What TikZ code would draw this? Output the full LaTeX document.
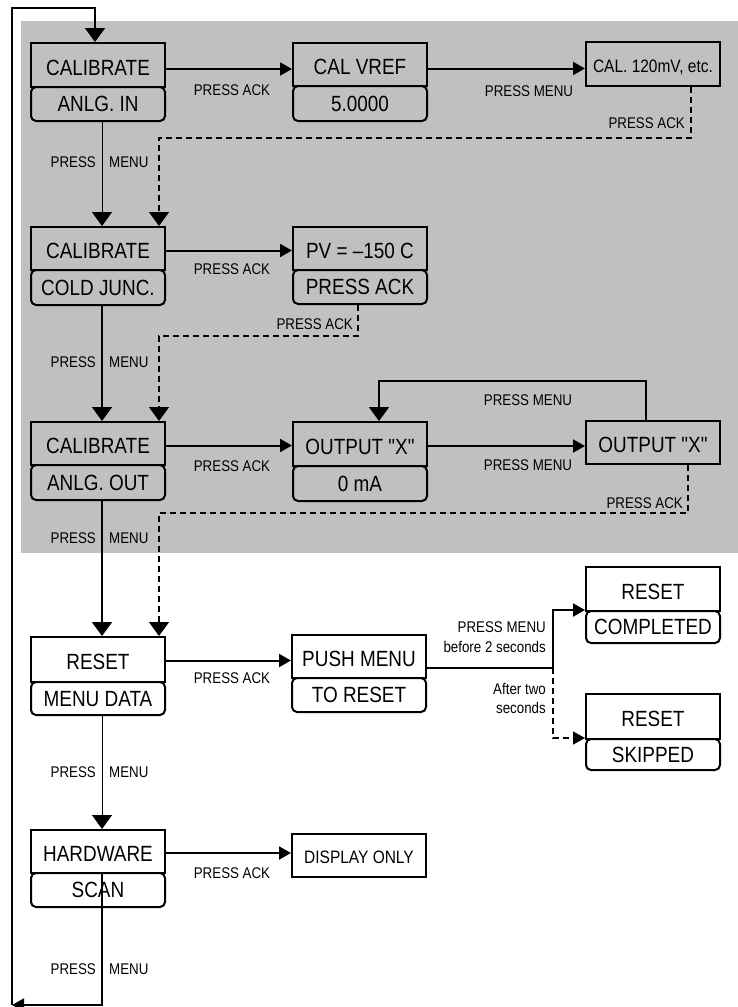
\documentclass[tikz,border=0pt]{standalone}
\usepackage{fontspec}
\setmainfont[FakeStretch=0.86, Ligatures=TeXOff]{Liberation Sans}
\usetikzlibrary{arrows.meta}
\definecolor{panel}{RGB}{192,192,192}
\tikzset{
  boxtop/.style={draw, line width=2pt, minimum width=134pt, inner sep=0pt,
    font=\fontsize{22}{25}\selectfont, text height=20.5pt, text depth=0pt},
  boxbot/.style={boxtop, rounded corners=5pt, text height=15.8pt},
  smalltext/.style={font=\fontsize{18}{21}\selectfont, text height=16.5pt},
  lab/.style={font=\fontsize{15.5}{18}\selectfont, inner sep=0pt},
  ln/.style={line width=2pt},
  thinln/.style={line width=1pt},
  dsh/.style={line width=1.2pt, dash pattern=on 6pt off 4pt},
  ha/.style={-{Triangle[length=12pt,width=13pt]}},
  va/.style={-{Triangle[length=14pt,width=20pt]}},
}
\newcommand\twobox[7]{%
  \node[boxtop, minimum height={(#4-#3)*1pt}] (#1t) at (#2,{(#3+#4)/2}) {#6};
  \node[boxbot, minimum height={(#5-#4)*1pt}] (#1b) at (#2,{(#4+#5)/2}) {#7};}
\begin{document}
\begin{tikzpicture}[x=1pt,y=-1pt]
\useasboundingbox (0,0) rectangle (738,1007);
\fill[white] (0,0) rectangle (738,1007);
\fill[panel] (21,21) rectangle (738,553);

% boxes
\twobox{cala}{98}{43}{87}{121}{CALIBRATE}{ANLG. IN}
\twobox{vref}{360}{43}{86}{121}{CAL VREF}{5.0000}
\node[boxtop, smalltext, minimum height=44pt] (cmv) at (653,64) {CAL. 120mV, etc.};
\twobox{calb}{98}{227}{270}{305}{CALIBRATE}{COLD JUNC.}
\twobox{pv}{360}{227}{270}{304}{PV = –150 C}{PRESS ACK}
\twobox{calc}{98}{422}{465}{500}{CALIBRATE}{ANLG. OUT}
\twobox{outa}{360}{422}{466}{501}{OUTPUT "X"}{0 mA}
\node[boxtop, minimum height=43pt] (outb) at (653,442.5) {OUTPUT "X"};
\twobox{rst}{98}{637}{682}{715}{RESET}{MENU DATA}
\twobox{push}{359}{635}{678}{712}{PUSH MENU}{TO RESET}
\twobox{comp}{653}{567}{611}{643}{RESET}{COMPLETED}
\twobox{skip}{653}{694}{739}{770}{RESET}{SKIPPED}
\twobox{hw}{98}{830}{873}{907}{HARDWARE}{SCAN}
\node[boxtop, smalltext, minimum height=43pt] (disp) at (359,855.5) {DISPLAY ONLY};

% connectors
\draw[ln,ha] ([yshift=-4pt]calat.east) -- ([yshift=-4pt]calat.east -| vreft.west);
\draw[ln,ha] ([yshift=-4pt]vreft.east) -- ([yshift=-4pt]vreft.east -| cmv.west);
\draw[dsh,va] ([xshift=38pt]cmv.south) |- ([xshift=-7pt,yshift=88pt]calbt.north east) -- ([xshift=-7pt]calbt.north east);
\draw[thinln,va] ([xshift=4pt]calab.south) -- ([xshift=4pt]calbt.north);

\draw[ln,ha] ([yshift=-2pt]calbt.east) -- ([yshift=-2pt]calbt.east -| pvt.west);
\draw[dsh,va] ([xshift=-2pt]pvb.south) |- ([xshift=-7pt,yshift=85pt]calct.north east) -- ([xshift=-7pt]calct.north east);
\draw[ln,va] ([xshift=4pt]calbb.south) -- ([xshift=4pt]calct.north);

\draw[ln,ha] ([yshift=-2pt]calct.east) -- ([yshift=-2pt]calct.east -| outat.west);
\draw[ln,ha] ([yshift=-2pt]outat.east) -- ([yshift=-2pt]outat.east -| outb.west);
\draw[ln,va] ([xshift=-7pt]outb.north) |- ([xshift=19pt,yshift=40pt]outat.north) -- ([xshift=19pt]outat.north);
\draw[dsh,va] ([xshift=35pt]outb.south) |- ([xshift=-7pt,yshift=123pt]rstt.north east) -- ([xshift=-7pt]rstt.north east);
\draw[ln,va] ([xshift=4pt]calcb.south) -- ([xshift=4pt]rstt.north);

\draw[ln,ha] ([yshift=-1pt]rstt.east) -- ([yshift=-1pt]rstt.east -| pusht.west);
\coordinate (fork) at (553,668);
\draw[ln] (pusht.east |- fork) -- (fork);
\draw[ln,ha] (fork) |- (compb.north west);
\draw[dsh,ha] (fork) |- (skipb.north west);
\draw[thinln,va] ([xshift=4pt]rstb.south) -- ([xshift=4pt]hwt.north);

\draw[ln,ha] ([yshift=-1.5pt]hwt.east) -- ([yshift=-1.5pt]hwt.east -| disp.west);
\coordinate (bl) at (12,1005);
\coordinate (tl) at (12,8);
\draw[ln,ha] ([xshift=4pt]hwt.south) |- (bl);
\draw[ln,va] (bl) -- (tl) -| ([xshift=-3pt]calat.north);

% labels
\foreach \yy/\nm in {162/a,362/b,538/c,772/d,969/e}{
  \node[lab, anchor=east] (p\nm) at (96,\yy) {PRESS};
  \node[lab, anchor=west] (m\nm) at (109,\yy) {MENU};
}
\foreach \yy/\nm in {90/a,269/b,466/c,678/d,873/e}{
  \node[lab] (ack\nm) at (232,\yy) {PRESS ACK};
}
\node[lab] (pm1) at (529,91) {PRESS MENU};
\node[lab] (pm2) at (528,400) {PRESS MENU};
\node[lab] (pm3) at (528,465) {PRESS MENU};
\node[lab, anchor=east] (pa1) at (685,123) {PRESS ACK};
\node[lab, anchor=east] (pa2) at (353,324) {PRESS ACK};
\node[lab, anchor=east] (pa3) at (683,503) {PRESS ACK};
\node[lab, anchor=east] (r1) at (546,627) {PRESS MENU};
\node[lab, anchor=east] (r2) at (546,647) {before 2 seconds};
\node[lab, anchor=east] (r3) at (546,689) {After two};
\node[lab, anchor=east] (r4) at (546,708) {seconds};
\end{tikzpicture}
\end{document}
